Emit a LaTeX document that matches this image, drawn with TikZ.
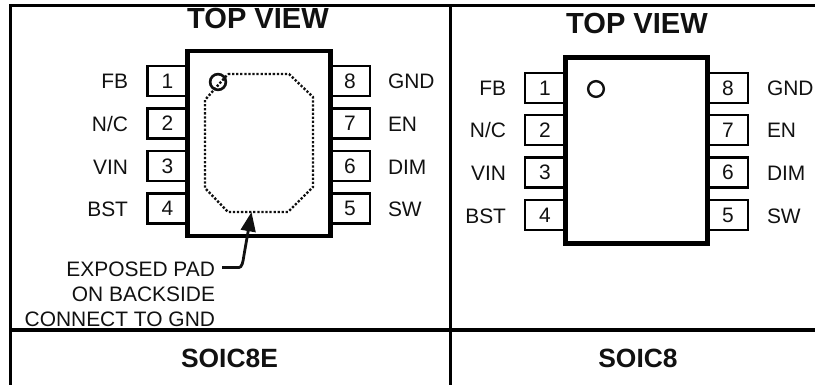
\documentclass[tikz,border=0pt]{standalone}
\usepackage{fontspec}
\setmainfont{Liberation Sans}
\usetikzlibrary{arrows.meta}
\definecolor{ink}{HTML}{111111}
\tikzset{
  x=0.75pt,y=-0.75pt,
  frameline/.style={draw=black,line width=2pt},
  chip/.style={draw=black,fill=white,line width=3.4pt,inner sep=0pt,outer sep=0pt,minimum width=#1},
  pinbox/.style={draw=black,line width=1.8pt,inner sep=0pt,outer sep=0pt,minimum width=30pt,minimum height=22.5pt,text=ink,font=\fontsize{15.7pt}{18pt}\selectfont,text height=11.2pt,text depth=0pt},
  lab/.style={inner sep=0pt,outer sep=0pt,text=ink,font=\fontsize{15.7pt}{18pt}\selectfont,text height=11.2pt,text depth=0pt},
  head/.style={inner sep=0pt,outer sep=0pt,text=ink,font=\bfseries\fontsize{21.8pt}{24pt}\selectfont,text height=15.6pt,text depth=0pt},
  pkg/.style={inner sep=0pt,outer sep=0pt,text=ink,font=\bfseries\fontsize{19.8pt}{22pt}\selectfont,text height=14.2pt,text depth=0pt},
  pad/.style={draw=ink,line width=1.8pt,line cap=butt,dash pattern=on 1.7pt off 1.35pt},
  mark1/.style={circle,draw=ink,fill=none,inner sep=0pt,outer sep=0pt,minimum size=11.8pt},
  lead/.style={draw=ink,line width=2.1pt,-{Triangle[length=14.5pt,width=11pt]}}
}
\begin{document}
\begin{tikzpicture}
\useasboundingbox (0,0) rectangle (815,385);
% frame
\coordinate (fa) at (10.7,385);
\coordinate (fb) at (10.7,5.5);
\coordinate (fc) at (815,5.5);
\coordinate (fd) at (450.5,5.5);
\coordinate (fe) at (450.5,385);
\coordinate (ff) at (10.7,330);
\coordinate (fg) at (815,330);
\draw[frameline] (fa) -- (fb) -- (fc);
\draw[frameline] (fd) -- (fe);
\draw[frameline,line width=3pt] (ff) -- (fg);
% left package pins
\node[pinbox] (la1) at (167.5,81) {1};
\node[pinbox] (la2) at (167.5,123.5) {2};
\node[pinbox] (la3) at (167.5,166) {3};
\node[pinbox] (la4) at (167.5,208.5) {4};
\node[pinbox] (la8) at (350,81) {8};
\node[pinbox] (la7) at (350,123.5) {7};
\node[pinbox] (la6) at (350,166) {6};
\node[pinbox] (la5) at (350,208.5) {5};
\node[chip=107pt,minimum height=139pt] (lchip) at (259,143.5) {};
% right package pins
\node[pinbox] (ra1) at (545,88) {1};
\node[pinbox] (ra2) at (545,130) {2};
\node[pinbox] (ra3) at (545,172.5) {3};
\node[pinbox] (ra4) at (545,215) {4};
\node[pinbox] (ra8) at (728,88) {8};
\node[pinbox] (ra7) at (728,130) {7};
\node[pinbox] (ra6) at (728,172.5) {6};
\node[pinbox] (ra5) at (728,215) {5};
\node[chip=106.5pt,minimum height=139.5pt] (rchip) at (636.5,150.5) {};
% labels left package
\node[lab,anchor=east] (lf1) at (128,81) {FB};
\node[lab,anchor=east] (lf2) at (128,124) {N/C};
\node[lab,anchor=east] (lf3) at (128,167) {VIN};
\node[lab,anchor=east] (lf4) at (128,209) {BST};
\node[lab,anchor=west] (lf8) at (388,81) {GND};
\node[lab,anchor=west] (lf7) at (388,124) {EN};
\node[lab,anchor=west] (lf6) at (388,167) {DIM};
\node[lab,anchor=west] (lf5) at (388,209) {SW};
% labels right package
\node[lab,anchor=east] (rf1) at (506,88) {FB};
\node[lab,anchor=east] (rf2) at (506,130) {N/C};
\node[lab,anchor=east] (rf3) at (506,173) {VIN};
\node[lab,anchor=east] (rf4) at (506,216) {BST};
\node[lab,anchor=west] (rf8) at (767,88) {GND};
\node[lab,anchor=west] (rf7) at (767,130) {EN};
\node[lab,anchor=west] (rf6) at (767,173) {DIM};
\node[lab,anchor=west] (rf5) at (767,216) {SW};
% titles
\node[head] (tl) at (258,18) {TOP VIEW};
\node[head] (tr) at (637,23) {TOP VIEW};
\node[pkg] (pl) at (229.5,358) {SOIC8E};
\node[pkg] (pr) at (638,358) {SOIC8};
% exposed pad
\draw[pad] (228,74) -- (289,74) -- (313,97) -- (313,187) -- (288,212) -- (228,212) -- (205,188) -- (205,100) -- cycle;
\node[mark1,line width=2pt] (lpin) at (218,82) {};
\node[mark1,line width=1.8pt] (rpin) at (596,89) {};
\node[lab,anchor=east] (e1) at (215,269) {EXPOSED PAD};
\node[lab,anchor=east] (e2) at (215,294) {ON BACKSIDE};
\node[lab,anchor=east] (e3) at (215,319) {CONNECT TO GND};
\coordinate (ltip) at (251.5,212);
\draw[lead] (222,267.5) -- (239,267.5) .. controls (242,267.5) and (243,262) .. (244,255) -- (ltip);
\end{tikzpicture}
\end{document}
